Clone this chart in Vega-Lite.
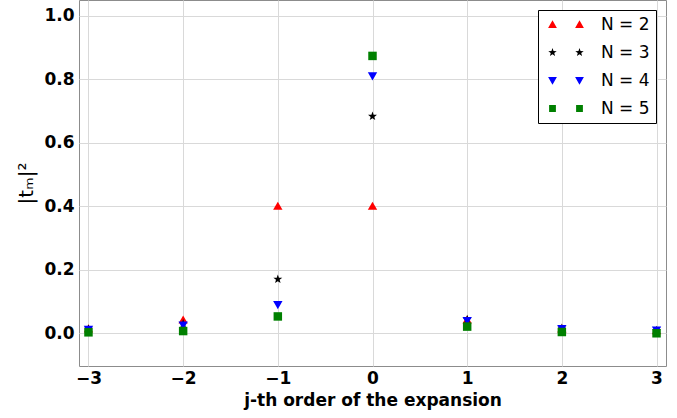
{
  "$schema": "https://vega.github.io/schema/vega-lite/v6.json",
  "width": 587,
  "height": 366,
  "padding": {"left": 79, "top": 0, "right": 11, "bottom": 52},
  "autosize": {"type": "none"},
  "background": "white",
  "config": {
    "font": "DejaVu Sans",
    "view": {"stroke": "#8c8c8c", "strokeWidth": 1}
  },
  "data": {
    "values": [
      {"j": -3, "N": "N = 2", "S": "2", "t": 0.014},
      {"j": -2, "N": "N = 2", "S": "2", "t": 0.042},
      {"j": -1, "N": "N = 2", "S": "2", "t": 0.40},
      {"j": 0, "N": "N = 2", "S": "2", "t": 0.40},
      {"j": 1, "N": "N = 2", "S": "2", "t": 0.042},
      {"j": 2, "N": "N = 2", "S": "2", "t": 0.014},
      {"j": 3, "N": "N = 2", "S": "2", "t": 0.008},
      {"j": -3, "N": "N = 3", "S": "3", "t": 0.013},
      {"j": -2, "N": "N = 3", "S": "3", "t": 0.03},
      {"j": -1, "N": "N = 3", "S": "3", "t": 0.17},
      {"j": 0, "N": "N = 3", "S": "3", "t": 0.683},
      {"j": 1, "N": "N = 3", "S": "3", "t": 0.044},
      {"j": 2, "N": "N = 3", "S": "3", "t": 0.016},
      {"j": 3, "N": "N = 3", "S": "3", "t": 0.009},
      {"j": -3, "N": "N = 4", "S": "4", "t": 0.012},
      {"j": -2, "N": "N = 4", "S": "4", "t": 0.026},
      {"j": -1, "N": "N = 4", "S": "4", "t": 0.09},
      {"j": 0, "N": "N = 4", "S": "4", "t": 0.81},
      {"j": 1, "N": "N = 4", "S": "4", "t": 0.04},
      {"j": 2, "N": "N = 4", "S": "4", "t": 0.015},
      {"j": 3, "N": "N = 4", "S": "4", "t": 0.01},
      {"j": -3, "N": "N = 5", "S": "5", "t": 0.003},
      {"j": -2, "N": "N = 5", "S": "5", "t": 0.007},
      {"j": -1, "N": "N = 5", "S": "5", "t": 0.053},
      {"j": 0, "N": "N = 5", "S": "5", "t": 0.873},
      {"j": 1, "N": "N = 5", "S": "5", "t": 0.021},
      {"j": 2, "N": "N = 5", "S": "5", "t": 0.004},
      {"j": 3, "N": "N = 5", "S": "5", "t": 0.0}
    ]
  },
  "layer": [
    {
      "mark": {"type": "point", "filled": true, "opacity": 1, "size": 72},
      "encoding": {
        "x": {
          "field": "j",
          "type": "quantitative",
          "scale": {"domain": [-3.1, 3.1], "nice": false, "zero": false},
          "axis": {
            "values": [-3, -2, -1, 0, 1, 2, 3],
            "format": "d",
            "title": "j-th order of the expansion",
            "titleFontSize": 17,
            "titleFontWeight": "bold",
            "titleColor": "black",
            "titlePadding": 6,
            "labelFontSize": 17,
            "labelFontWeight": "bold",
            "labelColor": "black",
            "labelPadding": 4,
            "labelFlush": false,
            "domain": false,
            "ticks": false,
            "gridColor": "#d9d9d9",
            "gridWidth": 1
          }
        },
        "y": {
          "field": "t",
          "type": "quantitative",
          "scale": {"domain": [-0.103, 1.049], "nice": false, "zero": false},
          "axis": {
            "values": [0, 0.2, 0.4, 0.6, 0.8, 1.0],
            "format": ".1f",
            "title": "|tₘ|²",
            "titleFontSize": 20,
            "titleFontWeight": "normal",
            "titleColor": "black",
            "titlePadding": 7,
            "labelFontSize": 17,
            "labelFontWeight": "bold",
            "labelColor": "black",
            "labelPadding": 5,
            "labelFlush": false,
            "domain": false,
            "ticks": false,
            "gridColor": "#d9d9d9",
            "gridWidth": 1
          }
        },
        "color": {
          "field": "N",
          "type": "nominal",
          "scale": {
            "domain": ["N = 2", "N = 3", "N = 4", "N = 5"],
            "range": ["#ff0000", "#000000", "#0000ff", "#008000"]
          },
          "legend": null
        },
        "shape": {
          "field": "S",
          "type": "nominal",
          "scale": {
            "domain": ["2", "3", "4", "5"],
            "range": [
              "M-1.1,0.85L1.1,0.85L0,-1.05Z",
              "M0,-1.1L0.26,-0.36L1.05,-0.34L0.43,0.14L0.65,0.89L0,0.45L-0.65,0.89L-0.43,0.14L-1.05,-0.34L-0.26,-0.36Z",
              "M-1.1,-0.85L1.1,-0.85L0,1.05Z",
              "M-1,-1L1,-1L1,1L-1,1Z"
            ]
          },
          "legend": null
        }
      }
    },
    {
      "transform": [{"filter": "datum.t > 5"}],
      "mark": {"type": "point", "filled": true, "opacity": 1, "size": 64},
      "encoding": {
        "color": {
          "field": "N",
          "type": "nominal",
          "legend": {
            "title": null,
            "orient": "top-right",
            "offset": 10,
            "fillColor": "white",
            "strokeColor": "black",
            "padding": 6,
            "cornerRadius": 0,
            "labelFontSize": 17,
            "labelColor": "black",
            "labelOffset": 40,
            "rowPadding": 10,
            "symbolSize": 64
          }
        },
        "shape": {
          "field": "N",
          "type": "nominal",
          "scale": {
            "domain": ["N = 2", "N = 3", "N = 4", "N = 5"],
            "range": [
              "M-1.1,0.85L1.1,0.85L0,-1.05Z M5.65,0.85L7.85,0.85L6.75,-1.05Z",
              "M0,-1.1L0.26,-0.36L1.05,-0.34L0.43,0.14L0.65,0.89L0,0.45L-0.65,0.89L-0.43,0.14L-1.05,-0.34L-0.26,-0.36Z M6.75,-1.1L7.01,-0.36L7.8,-0.34L7.18,0.14L7.4,0.89L6.75,0.45L6.1,0.89L6.32,0.14L5.7,-0.34L6.49,-0.36Z",
              "M-1.1,-0.85L1.1,-0.85L0,1.05Z M5.65,-0.85L7.85,-0.85L6.75,1.05Z",
              "M-0.85,-0.85L0.85,-0.85L0.85,0.85L-0.85,0.85Z M5.9,-0.85L7.6,-0.85L7.6,0.85L5.9,0.85Z"
            ]
          },
          "legend": {
            "title": null,
            "orient": "top-right",
            "offset": 10,
            "fillColor": "white",
            "strokeColor": "black",
            "padding": 6,
            "cornerRadius": 0,
            "labelFontSize": 17,
            "labelColor": "black",
            "labelOffset": 40,
            "rowPadding": 10,
            "symbolSize": 64
          }
        }
      }
    }
  ],
  "resolve": {
    "scale": {"shape": "independent"},
    "legend": {"color": "independent", "shape": "independent"}
  }
}
